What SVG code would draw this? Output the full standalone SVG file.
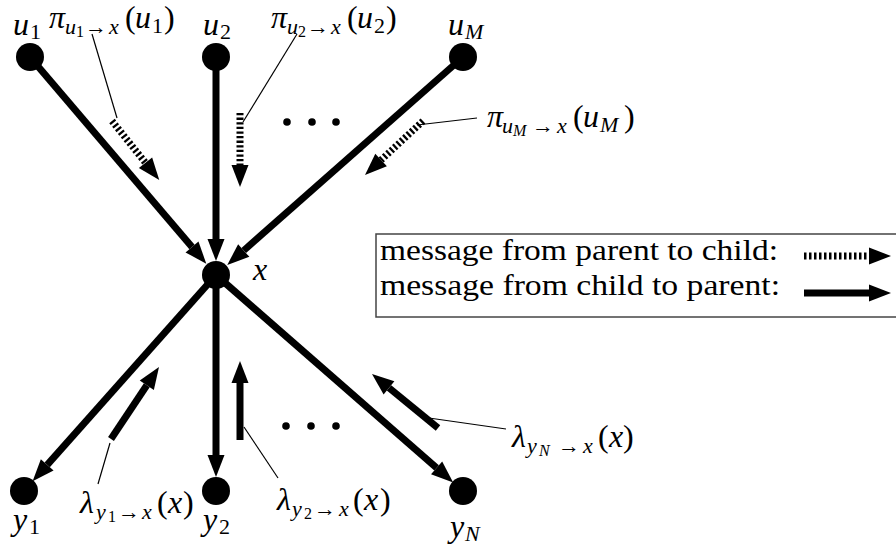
<svg xmlns="http://www.w3.org/2000/svg" width="896" height="551" viewBox="0 0 896 551">
<defs>
<marker id="ah" markerUnits="userSpaceOnUse" markerWidth="22" markerHeight="17" refX="0" refY="8.5" orient="auto" overflow="visible">
<path d="M0,0 L22,8.5 L0,17 Z" fill="#000"/>
</marker>
</defs>
<rect width="896" height="551" fill="#fff"/>

<g id="connectors" stroke="#000" stroke-width="7" fill="none" marker-end="url(#ah)">
<line x1="30" y1="57" x2="192" y2="246.9"/>
<line x1="216" y1="57" x2="216" y2="239"/>
<line x1="463" y1="57" x2="243.75" y2="250.5"/>
<line x1="216" y1="275" x2="47.2" y2="464.9"/>
<line x1="216" y1="275" x2="216" y2="455"/>
<line x1="216" y1="275" x2="436.6" y2="467.9"/>
</g>

<g id="messages" stroke="#000" stroke-width="7" fill="none" marker-end="url(#ah)">
<g stroke-dasharray="2.3 2.3">
<line x1="112" y1="121" x2="145.5" y2="162.8"/>
<line x1="240" y1="113" x2="240" y2="165"/>
<line x1="423" y1="121" x2="381.1" y2="160"/>
</g>
<line x1="111" y1="439" x2="146.8" y2="385.3"/>
<line x1="240" y1="440" x2="240" y2="383"/>
<line x1="438" y1="428" x2="389" y2="387.9"/>
</g>

<g id="leaders" stroke="#000" stroke-width="1.2" fill="none">
<line x1="92" y1="34" x2="117" y2="118"/>
<line x1="297" y1="34" x2="243" y2="122"/>
<line x1="417" y1="125" x2="477" y2="118"/>
<line x1="110" y1="443" x2="98" y2="484"/>
<line x1="244" y1="427" x2="278" y2="478"/>
<line x1="429" y1="418" x2="506" y2="429"/>
</g>

<g id="dots" fill="#000">
<circle cx="287" cy="122" r="3.8"/>
<circle cx="312" cy="122" r="3.8"/>
<circle cx="336" cy="122" r="3.8"/>
<circle cx="286" cy="426" r="3.8"/>
<circle cx="311" cy="426" r="3.8"/>
<circle cx="336" cy="426" r="3.8"/>
</g>

<g id="u1"><circle cx="30" cy="57" r="14"/></g>
<g id="u2"><circle cx="216" cy="57" r="14"/></g>
<g id="uM"><circle cx="463" cy="57" r="14"/></g>
<g id="x"><circle cx="216" cy="275" r="14"/></g>
<g id="y1"><circle cx="24" cy="491" r="14"/></g>
<g id="y2"><circle cx="216" cy="491" r="14"/></g>
<g id="yN"><circle cx="463" cy="491" r="14"/></g>

<rect id="legend-box" x="376" y="234" width="540" height="83" fill="none" stroke="#444" stroke-width="1.5"/>
<line stroke="#000" stroke-width="7" marker-end="url(#ah)" stroke-dasharray="2.5 2.5" x1="804" y1="256" x2="869" y2="256"/>
<line stroke="#000" stroke-width="7" marker-end="url(#ah)" x1="804" y1="293" x2="869" y2="293"/>

<text font-family="Liberation Serif" style="font-family:'Liberation Serif',serif"><tspan font-style="italic" font-size="32" x="13" y="35">u</tspan><tspan font-size="22" x="30" y="39">1</tspan></text>
<text font-family="Liberation Serif" style="font-family:'Liberation Serif',serif"><tspan font-style="italic" font-size="32" x="203" y="35">u</tspan><tspan font-size="22" x="220" y="39">2</tspan></text>
<text font-family="Liberation Serif" style="font-family:'Liberation Serif',serif"><tspan font-style="italic" font-size="32" x="448" y="35">u</tspan><tspan font-style="italic" font-size="22" x="465" y="39">M</tspan></text>
<text font-family="Liberation Serif" style="font-family:'Liberation Serif',serif" font-style="italic" font-size="32" x="253" y="280">x</text>
<text font-family="Liberation Serif" style="font-family:'Liberation Serif',serif"><tspan font-style="italic" font-size="32" x="13" y="530">y</tspan><tspan font-size="22" x="29" y="534">1</tspan></text>
<text font-family="Liberation Serif" style="font-family:'Liberation Serif',serif"><tspan font-style="italic" font-size="32" x="203" y="530">y</tspan><tspan font-size="22" x="219" y="534">2</tspan></text>
<text font-family="Liberation Serif" style="font-family:'Liberation Serif',serif"><tspan font-style="italic" font-size="32" x="450" y="537">y</tspan><tspan font-style="italic" font-size="22" x="465" y="541">N</tspan></text>

<text font-family="Liberation Serif" style="font-family:'Liberation Serif',serif"><tspan font-style="italic" font-size="32" x="49" y="28">π</tspan><tspan font-style="italic" font-size="22" x="65" y="34">u</tspan><tspan font-size="16" x="76" y="37">1</tspan><tspan font-size="22" x="85" y="34">→</tspan><tspan font-style="italic" font-size="22" x="109" y="34">x</tspan><tspan font-size="32" x="125" y="28">(</tspan><tspan font-style="italic" font-size="32" x="135" y="28">u</tspan><tspan font-size="22" x="152" y="33">1</tspan><tspan font-size="32" x="164" y="28">)</tspan></text>
<text font-family="Liberation Serif" style="font-family:'Liberation Serif',serif"><tspan font-style="italic" font-size="32" x="271" y="28">π</tspan><tspan font-style="italic" font-size="22" x="287" y="34">u</tspan><tspan font-size="16" x="298" y="37">2</tspan><tspan font-size="22" x="307" y="34">→</tspan><tspan font-style="italic" font-size="22" x="331" y="34">x</tspan><tspan font-size="32" x="347" y="28">(</tspan><tspan font-style="italic" font-size="32" x="357" y="28">u</tspan><tspan font-size="22" x="374" y="33">2</tspan><tspan font-size="32" x="386" y="28">)</tspan></text>
<text font-family="Liberation Serif" style="font-family:'Liberation Serif',serif"><tspan font-style="italic" font-size="32" x="487" y="127">π</tspan><tspan font-style="italic" font-size="22" x="502" y="133">u</tspan><tspan font-style="italic" font-size="16" x="513" y="136">M</tspan><tspan font-size="22" x="532" y="133">→</tspan><tspan font-style="italic" font-size="22" x="557" y="133">x</tspan><tspan font-size="32" x="573" y="127">(</tspan><tspan font-style="italic" font-size="32" x="583" y="127">u</tspan><tspan font-style="italic" font-size="22" x="600" y="132">M</tspan><tspan font-size="32" x="624" y="127">)</tspan></text>
<text font-family="Liberation Serif" style="font-family:'Liberation Serif',serif"><tspan font-style="italic" font-size="32" x="80" y="513">λ</tspan><tspan font-style="italic" font-size="22" x="96" y="519">y</tspan><tspan font-size="16" x="108" y="522">1</tspan><tspan font-size="22" x="118" y="519">→</tspan><tspan font-style="italic" font-size="22" x="142" y="519">x</tspan><tspan font-size="32" x="157" y="513">(</tspan><tspan font-style="italic" font-size="32" x="168" y="513">x</tspan><tspan font-size="32" x="183" y="513">)</tspan></text>
<text font-family="Liberation Serif" style="font-family:'Liberation Serif',serif"><tspan font-style="italic" font-size="32" x="277" y="510">λ</tspan><tspan font-style="italic" font-size="22" x="292" y="516">y</tspan><tspan font-size="16" x="304" y="519">2</tspan><tspan font-size="22" x="314" y="516">→</tspan><tspan font-style="italic" font-size="22" x="339" y="516">x</tspan><tspan font-size="32" x="353" y="510">(</tspan><tspan font-style="italic" font-size="32" x="364" y="510">x</tspan><tspan font-size="32" x="380" y="510">)</tspan></text>
<text font-family="Liberation Serif" style="font-family:'Liberation Serif',serif"><tspan font-style="italic" font-size="32" x="512" y="447">λ</tspan><tspan font-style="italic" font-size="22" x="527" y="453">y</tspan><tspan font-style="italic" font-size="16" x="539" y="456">N</tspan><tspan font-size="22" x="558" y="453">→</tspan><tspan font-style="italic" font-size="22" x="583" y="453">x</tspan><tspan font-size="32" x="598" y="447">(</tspan><tspan font-style="italic" font-size="32" x="609" y="447">x</tspan><tspan font-size="32" x="623" y="447">)</tspan></text>

<text font-family="Liberation Serif" style="font-family:'Liberation Serif',serif" font-size="30" x="380" y="260" textLength="398" lengthAdjust="spacingAndGlyphs">message from parent to child:</text>
<text font-family="Liberation Serif" style="font-family:'Liberation Serif',serif" font-size="30" x="380" y="295" textLength="400" lengthAdjust="spacingAndGlyphs">message from child to parent:</text>
</svg>
